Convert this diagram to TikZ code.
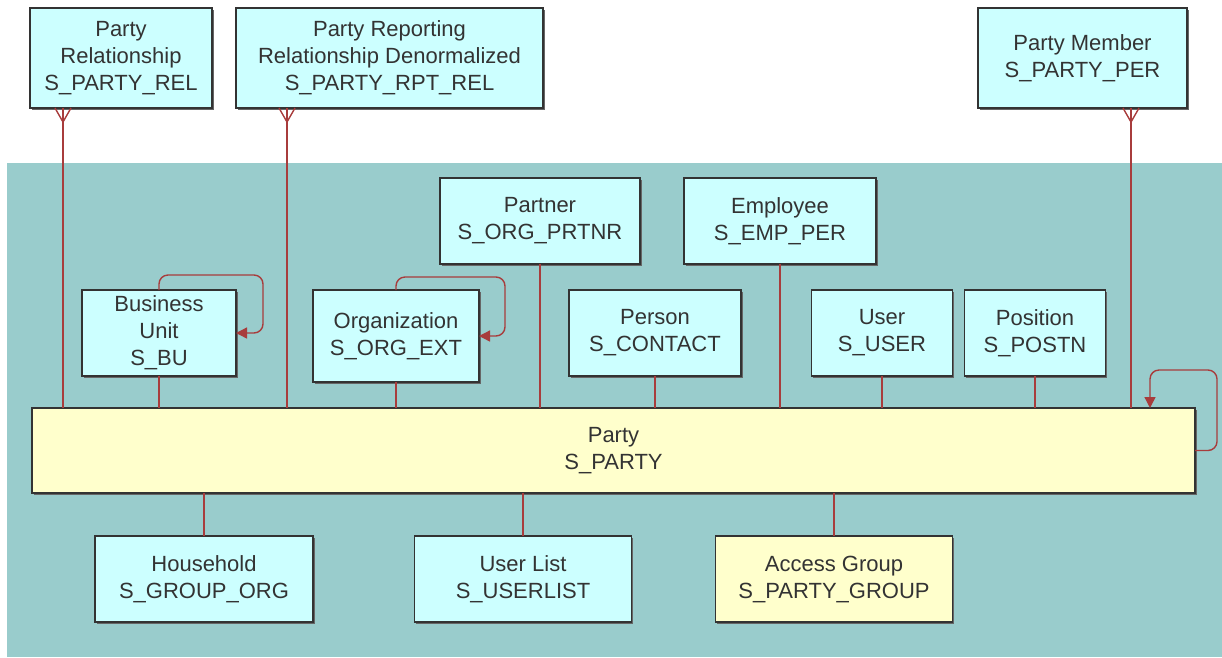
\documentclass[tikz,border=0pt]{standalone}
\usepackage{fontspec}
\setmainfont{Liberation Sans}
\usetikzlibrary{arrows.meta,shadows}

\definecolor{bgTeal}{HTML}{99CCCC}
\definecolor{tableCyan}{HTML}{CCFFFF}
\definecolor{partyYellow}{HTML}{FFFFCC}
\definecolor{tableBorder}{HTML}{333333}
\definecolor{tableText}{HTML}{333333}
\definecolor{linkRed}{HTML}{A83C3C}

\begin{document}
\begin{tikzpicture}
[x=1pt,y=-1pt,%
  tableDecorate/.style={shape=rectangle,draw=tableBorder,line width=1.6pt,fill=tableCyan,
    inner sep=0pt,outer sep=0pt,align=center,text=tableText,
    font=\fontsize{22}{27}\selectfont,
    drop shadow={shadow xshift=1.5pt,shadow yshift=-1.5pt,fill=black!60,opacity=1}},
  lineDecorate/.style={-,draw=linkRed,line width=1.4pt},
  loopDecorate/.style={lineDecorate,rounded corners=9pt,-{Triangle[length=11pt,width=11pt]}}]
\useasboundingbox (0,0) rectangle (1222,657);
\fill[bgTeal] (7,163) rectangle (1222,657);
%% tables
\foreach \nodename/\x/\y/\w/\h/\txt in {
  prel/121/58/182/100/{Party\\Relationship\\S\_PARTY\_REL},
  prptrel/389.5/58/307/100/{Party Reporting\\Relationship Denormalized\\S\_PARTY\_RPT\_REL},
  pmem/1082.5/58/209/100/{Party Member\\S\_PARTY\_PER},
  partner/540/221/200/86/{Partner\\S\_ORG\_PRTNR},
  emp/780/221/192/86/{Employee\\S\_EMP\_PER},
  bu/159/333/154/86/{Business\\Unit\\S\_BU},
  org/396/336/166/92/{Organization\\S\_ORG\_EXT},
  person/655/333/172/86/{Person\\S\_CONTACT},
  user/882/333/141/86/{User\\S\_USER},
  postn/1035/333/141/86/{Position\\S\_POSTN},
  hh/204/579/218/86/{Household\\S\_GROUP\_ORG},
  ulist/523/579/217/86/{User List\\S\_USERLIST}}
{
  \node (\nodename) at (\x,\y) [tableDecorate,minimum width=\w pt,minimum height=\h pt] {\txt};
}
\node (party) at (613.5,450.5) [tableDecorate,fill=partyYellow,minimum width=1163pt,minimum height=85pt] {Party\\S\_PARTY};
\node (agrp) at (834,579) [tableDecorate,fill=partyYellow,minimum width=237pt,minimum height=86pt] {Access Group\\S\_PARTY\_GROUP};
%% many-to-one links from the top
\foreach \nodename/\dx in {prel/-58, prptrel/-102.5, pmem/48.5}
{
  \coordinate (\nodename Foot) at ([xshift=\dx pt]\nodename.south);
  \draw[lineDecorate] (\nodename Foot) -- (\nodename Foot |- party.north);
  \draw[lineDecorate] ([xshift=-8pt]\nodename Foot) -- ([yshift=-14pt]\nodename Foot) -- ([xshift=8pt]\nodename Foot);
}
%% subtypes above the party
\foreach \nodename in {partner, emp, bu, org, person, user, postn}
{
  \draw[lineDecorate] (\nodename.south) -- (\nodename.south |- party.north);
}
%% tables below the party
\foreach \nodename in {hh, ulist, agrp}
{
  \draw[lineDecorate] (party.south -| \nodename) -- (\nodename.north);
}
%% self links
\draw[loopDecorate] (bu.north) -- ++(0,-15) -| ([xshift=27pt]bu.east) -- (bu.east);
\draw[loopDecorate] (org.north) -- ++(0,-13) -| ([xshift=26pt]org.east) -- (org.east);
\draw[loopDecorate] (party.east) -- ++(22,0) |- ([xshift=-45pt,yshift=38pt]party.north east) -- ([xshift=-45pt]party.north east);
\end{tikzpicture}
\end{document}
